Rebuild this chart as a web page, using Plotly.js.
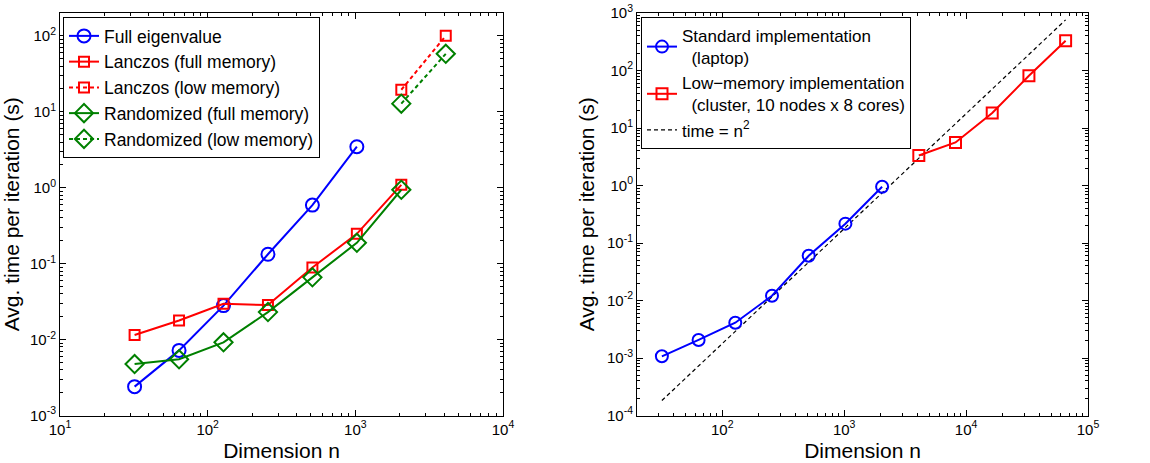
<!DOCTYPE html>
<html>
<head>
<meta charset="utf-8">
<script src="https://cdn.plot.ly/plotly-3.0.1.min.js"></script>
<style>html,body{margin:0;padding:0;background:#fff;} #chart{width:1150px;height:463px;}</style>
</head>
<body>
<div id="chart"></div>
<script>
// ---- data ----
const nLeft = [32, 64, 128, 256, 512, 1024, 2048];
const fullEig = [0.0024, 0.0072, 0.028, 0.133, 0.59, 3.47];
const lanczosFull = [0.0115, 0.0178, 0.0296, 0.0285, 0.089, 0.247, 1.09];
const randFull = [0.00476, 0.0055, 0.0092, 0.023, 0.066, 0.188, 0.94];
const nLow = [2048, 4096];
const lanczosLow = [19.5, 100];
const randLow = [12.8, 58];

const nStd = [32, 64, 128, 256, 512, 1024, 2048];
const stdTime = [0.00107, 0.00206, 0.0041, 0.0121, 0.060, 0.217, 0.95];
const nCluster = [4096, 8192, 16384, 32768, 65536];
const clusterTime = [3.33, 5.6, 18.2, 81, 329];
const nRef = [32, 65536];
const refTime = [0.000182, 760];

const BLUE = '#0000ff', RED = '#ff0000', GREEN = '#008000';
const FONT = 'Liberation Sans, Arial, Helvetica, sans-serif';

function powTicks(lo, hi) {
  const vals = [], text = [];
  for (let p = lo; p <= hi; p++) {
    vals.push(Math.pow(10, p));
    text.push('10<sup>' + (p < 0 ? '-' : '') + Math.abs(p) + '</sup>');
  }
  return {vals, text};
}
function minorTicks(lo, hi) {
  const v = [];
  for (let p = lo; p < hi; p++) for (let k = 2; k <= 9; k++) v.push(k * Math.pow(10, p));
  return v;
}
function axis(domain, rangeLog, tlo, thi, anchor, title) {
  const t = powTicks(tlo, thi);
  return {
    type: 'log', domain: domain, range: rangeLog, anchor: anchor,
    tickmode: 'array', tickvals: t.vals, ticktext: t.text,
    ticks: 'inside', ticklen: 6, tickwidth: 1, tickcolor: '#000',
    minor: {tickmode: 'array', tickvals: minorTicks(tlo - 1, thi + 1), ticks: 'inside', ticklen: 3, tickcolor: '#000', showgrid: false},
    showline: true, linecolor: '#000', linewidth: 1, mirror: 'ticks',
    showgrid: false, zeroline: false,
    tickfont: {family: FONT, size: 15, color: '#000'},
    title: {text: title, font: {family: FONT, size: 21, color: '#000'}, standoff: 6},
    automargin: false
  };
}

const lw = 2;
const traces = [
  {x: nLeft.slice(0, fullEig.length), y: fullEig, name: 'Full eigenvalue', mode: 'lines+markers',
   line: {color: BLUE, width: lw}, marker: {symbol: 'circle-open', size: 13, color: BLUE, line: {width: 2}},
   xaxis: 'x', yaxis: 'y', legend: 'legend'},
  {x: nLeft, y: lanczosFull, name: 'Lanczos (full memory)', mode: 'lines+markers',
   line: {color: RED, width: lw}, marker: {symbol: 'square-open', size: 10, color: RED, line: {width: 2}},
   xaxis: 'x', yaxis: 'y', legend: 'legend'},
  {x: nLow, y: lanczosLow, name: 'Lanczos (low memory)', mode: 'lines+markers',
   line: {color: RED, width: lw, dash: '4px,3px'}, marker: {symbol: 'square-open', size: 10, color: RED, line: {width: 2}},
   xaxis: 'x', yaxis: 'y', legend: 'legend'},
  {x: nLeft, y: randFull, name: 'Randomized (full memory)', mode: 'lines+markers',
   line: {color: GREEN, width: lw}, marker: {symbol: 'diamond-open', size: 14, color: GREEN, line: {width: 2}},
   xaxis: 'x', yaxis: 'y', legend: 'legend'},
  {x: nLow, y: randLow, name: 'Randomized (low memory)', mode: 'lines+markers',
   line: {color: GREEN, width: lw, dash: '4px,3px'}, marker: {symbol: 'diamond-open', size: 14, color: GREEN, line: {width: 2}},
   xaxis: 'x', yaxis: 'y', legend: 'legend'},

  {x: nRef, y: refTime, name: 'time = n<sup>2</sup>', mode: 'lines', legendrank: 3,
   line: {color: '#000', width: 1.2, dash: '4px,3px'},
   xaxis: 'x2', yaxis: 'y2', legend: 'legend2'},
  {x: nStd, y: stdTime, name: 'Standard implementation<br>&nbsp;&nbsp;(laptop)', mode: 'lines+markers', legendrank: 1,
   line: {color: BLUE, width: lw}, marker: {symbol: 'circle-open', size: 12, color: BLUE, line: {width: 2}},
   xaxis: 'x2', yaxis: 'y2', legend: 'legend2'},
  {x: nCluster, y: clusterTime, name: 'Low\u2212memory implementation<br>&nbsp;&nbsp;(cluster, 10 nodes x 8 cores)', mode: 'lines+markers', legendrank: 2,
   line: {color: RED, width: lw}, marker: {symbol: 'square-open', size: 11, color: RED, line: {width: 2}},
   xaxis: 'x2', yaxis: 'y2', legend: 'legend2'}
];

const yDom = [1 - 415.5 / 463, 1 - 13 / 463];
const layout = {
  width: 1150, height: 463,
  margin: {l: 0, r: 0, t: 0, b: 0},
  paper_bgcolor: '#fff', plot_bgcolor: '#fff',
  font: {family: FONT, color: '#000'},
  xaxis: axis([60 / 1150, 503 / 1150], [1, 4], 1, 4, 'y', 'Dimension n'),
  yaxis: axis(yDom, [-3, Math.log10(200)], -3, 2, 'x', 'Avg. time per iteration (s)'),
  xaxis2: axis([637 / 1150, 1088 / 1150], [Math.log10(20), 5], 2, 5, 'y2', 'Dimension n'),
  yaxis2: axis(yDom, [-4, 3], -4, 3, 'x2', 'Avg. time per iteration (s)'),
  legend: {x: 63 / 1150, y: 1 - 17 / 463, xanchor: 'left', yanchor: 'top',
    bgcolor: '#fff', bordercolor: '#000', borderwidth: 1,
    font: {family: FONT, size: 17.5, color: '#000'}, itemwidth: 30, tracegroupgap: 0},
  legend2: {x: 641 / 1150, y: 1 - 17 / 463, xanchor: 'left', yanchor: 'top',
    bgcolor: '#fff', bordercolor: '#000', borderwidth: 1,
    font: {family: FONT, size: 17, color: '#000'}, itemwidth: 30, tracegroupgap: 0},
  showlegend: true
};

Plotly.newPlot('chart', traces, layout, {displayModeBar: false, staticPlot: true});
</script>
</body>
</html>
